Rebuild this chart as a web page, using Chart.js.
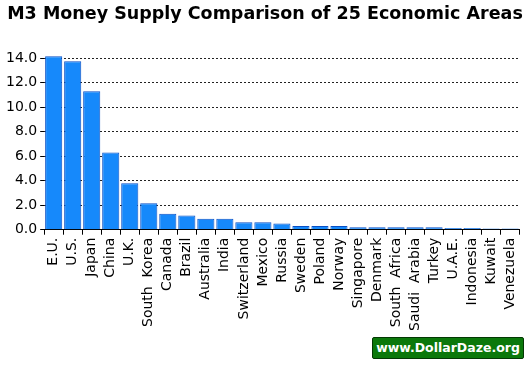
<!DOCTYPE html>
<html>
<head>
<meta charset="utf-8">
<script src="https://cdn.jsdelivr.net/npm/chart.js@4"></script>
<style>
  body { margin: 0; background: #fff; }
  #wrap { position: relative; width: 530px; height: 365px; }
  #badge {
    position: absolute; left: 372px; top: 337px; width: 150px; height: 20px;
    background: #0b780b; border: 1px solid #033803; border-radius: 2px;
    color: #fff; font: bold 12.5px "DejaVu Sans", sans-serif;
    line-height: 20px; text-align: center;
  }
</style>
</head>
<body>
<div id="wrap">
  <canvas id="chart" width="530" height="365"></canvas>
  <div id="badge">www.DollarDaze.org</div>
</div>
<script>
// countries, largest first
const areas = ['E.U.', 'U.S.', 'Japan', 'China', 'U.K.', 'South  Korea', 'Canada', 'Brazil',
  'Australia', 'India', 'Switzerland', 'Mexico', 'Russia', 'Sweden', 'Poland', 'Norway',
  'Singapore', 'Denmark', 'South  Africa', 'Saudi  Arabia', 'Turkey', 'U.A.E.', 'Indonesia',
  'Kuwait', 'Venezuela']
// M3 (trillions USD)
const m3 = [14.15, 13.75, 11.3, 6.3, 3.8, 2.15, 1.3, 1.15, 0.9, 0.9, 0.6, 0.6, 0.5,
  0.3, 0.3, 0.3, 0.2, 0.2, 0.2, 0.2, 0.2, 0.15, 0.15, 0.1, 0.1]
const yTicks = [0, 2, 4, 6, 8, 10, 12, 14]

const font = "'DejaVu Sans', Verdana, sans-serif"

const ctx = document.getElementById('chart').getContext('2d')
new Chart(ctx, {
  type: 'bar',
  data: {
    labels: areas,
    datasets: [{
      data: m3,
      backgroundColor: '#1689fb',
      borderColor: '#0a4fc4',
      borderWidth: 1,
      barPercentage: 0.9,
      categoryPercentage: 1
    }]
  },
  options: {
    responsive: false,
    animation: false,
    layout: { padding: { left: 3, right: 3, top: 0, bottom: 31 } },
    plugins: {
      legend: { display: false },
      tooltip: { enabled: false },
      title: {
        display: true,
        text: 'M3 Money Supply Comparison of 25 Economic Areas',
        color: '#000',
        font: { family: font, size: 17.5, weight: 'bold' },
        padding: { top: 4, bottom: 30 }
      }
    },
    scales: {
      x: {
        offset: true,
        border: { color: '#000', width: 1 },
        grid: { offset: true, drawOnChartArea: false, color: '#000', tickLength: 5 },
        ticks: {
          color: '#000', maxRotation: 90, minRotation: 90, autoSkip: false,
          font: { family: font, size: 14 }, padding: 3
        }
      },
      y: {
        min: 0,
        max: 14.25,
        afterBuildTicks: axis => { axis.ticks = yTicks.map(v => ({ value: v })) },
        border: { display: false, dash: [2, 2] },
        grid: {
          color: c => c.tick.value === 0 ? 'rgba(0,0,0,0)' : '#222',
          tickColor: '#000', tickLength: 4, tickBorderDash: [],
          lineWidth: 1
        },
        ticks: {
          color: '#000', padding: 3,
          font: { family: font, size: 14 },
          callback: v => v.toFixed(1)
        }
      }
    }
  }
})
</script>
</body>
</html>
